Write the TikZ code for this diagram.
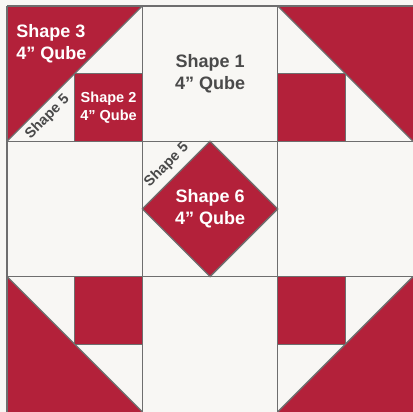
\documentclass[tikz,border=0pt]{standalone}
\usepackage{fontspec}
\setmainfont{Liberation Sans}
\usepackage{tikz}
\definecolor{Berry}{HTML}{B3213A}
\definecolor{Muslin}{HTML}{F8F7F4}
\definecolor{Seam}{HTML}{6E6E6E}
\definecolor{Ink}{HTML}{4A4A4A}

\begin{document}
\begin{tikzpicture}[x=135.3pt, y=135.3pt,
    seam/.style={draw=Seam, line width=1.3pt},
    bigtag/.style={font=\bfseries\fontsize{18}{21.6}\selectfont, align=center, inner sep=0pt},
    smalltag/.style={font=\bfseries\fontsize{14.5}{17.5}\selectfont, align=center, inner sep=0pt}]
  \useasboundingbox (-0.052,0) rectangle (3,3.044);
  \fill[Muslin] (-0.052,0) rectangle (3,3.044);
  % corner triangles
  \fill[Berry] (0,2) -- (0,3) -- (1,3) -- cycle;
  \fill[Berry] (2,3) -- (3,3) -- (3,2) -- cycle;
  \fill[Berry] (0,1) -- (0,0) -- (1,0) -- cycle;
  \fill[Berry] (2,0) -- (3,0) -- (3,1) -- cycle;
  % small squares
  \fill[Berry] (0.5,2) rectangle (1,2.5);
  \fill[Berry] (2,2) rectangle (2.5,2.5);
  \fill[Berry] (0.5,0.5) rectangle (1,1);
  \fill[Berry] (2,0.5) rectangle (2.5,1);
  % centre diamond
  \fill[Berry] (1.5,2) -- (2,1.5) -- (1.5,1) -- (1,1.5) -- cycle;
  % seams
  \foreach \k in {0,1,2} {
    \draw[seam] (\k,0) -- (\k,3);
    \draw[seam] (0,\k+1) -- (3,\k+1);
  }
  \draw[seam] (0,2) -- (1,3) (2,3) -- (3,2) (0,1) -- (1,0) (2,0) -- (3,1);
  \draw[seam] (0.5,2) rectangle (1,2.5) (2,2) rectangle (2.5,2.5)
              (0.5,0.5) rectangle (1,1) (2,0.5) rectangle (2.5,1);
  \draw[seam] (1.5,2) -- (2,1.5) -- (1.5,1) -- (1,1.5) -- cycle;
  % labels
  \node[bigtag, text=white, anchor=west, align=left] (shape3) at (0.067,2.72) {Shape 3\\4" Qube};
  \node[bigtag, text=Ink] (shape1) at (1.5,2.5) {Shape 1\\4" Qube};
  \node[smalltag, text=white] (shape2) at (0.75,2.25) {Shape 2\\4" Qube};
  \node[bigtag, text=white] (shape6) at (1.5,1.5) {Shape 6\\4" Qube};
  \node[smalltag, text=Ink, rotate=45] (shape5a) at (0.30,2.18) {Shape 5};
  \node[smalltag, text=Ink, rotate=45] (shape5b) at (1.18,1.825) {Shape 5};
\end{tikzpicture}
\end{document}
